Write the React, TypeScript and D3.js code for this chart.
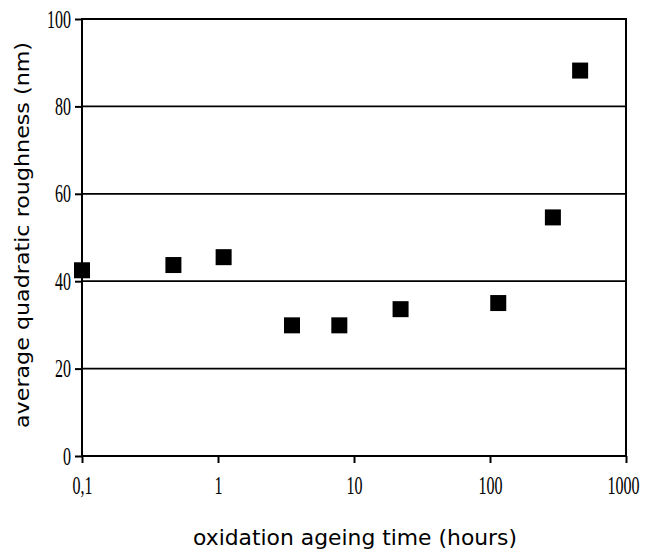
import React, { useEffect, useRef } from 'react';
import * as d3 from 'd3';

// ageing time (hours) and roughness (nm)
const hours = [0.1, 0.47, 1.1, 3.5, 7.8, 22, 115, 290, 460];
const roughness = [42.5, 43.7, 45.5, 29.9, 29.9, 33.6, 35.0, 54.6, 88.2];
const xTicks = [0.1, 1, 10, 100, 1000];
const xTickLabels = ['0,1', '1', '10', '100', '1000'];
const yTicks = [0, 20, 40, 60, 80, 100];

export default function App() {
  const ref = useRef<SVGSVGElement>(null);

  useEffect(() => {
    const svg = d3.select(ref.current);
    svg.selectAll('*').remove();

    const width = 645;
    const height = 554;
    const margin = { top: 19, left: 82, bottom: 98, right: 19 };
    const iwidth = width - margin.left - margin.right;
    const iheight = height - margin.top - margin.bottom;

    const x = d3.scaleLog().domain([0.1, 1000]).range([0, iwidth]);
    const y = d3.scaleLinear().domain([0, 100]).range([iheight, 0]);

    const g = svg.append('g').attr('transform', `translate(${margin.left},${margin.top})`);

    // gridlines
    g.selectAll('line.grid')
      .data(yTicks.filter(d => d > 0 && d < 100))
      .enter().append('line')
      .attr('class', 'grid')
      .attr('x1', 0).attr('x2', iwidth)
      .attr('y1', d => y(d)).attr('y2', d => y(d))
      .attr('stroke', '#000').attr('stroke-width', 1.8);

    // frame
    g.append('rect')
      .attr('x', 0).attr('y', 0)
      .attr('width', iwidth).attr('height', iheight)
      .attr('fill', 'none').attr('stroke', '#000').attr('stroke-width', 2);

    const tickFont = '"Liberation Serif", serif';
    // the tick digits are tall and narrow in the original
    const sx = 0.64;

    const xAxis = g.append('g')
      .attr('transform', `translate(0,${iheight})`)
      .call(d3.axisBottom(x).tickValues(xTicks).tickSize(7).tickSizeOuter(0)
        .tickFormat((d, i) => xTickLabels[i]));
    xAxis.select('.domain').remove();
    xAxis.selectAll('line').attr('stroke-width', 2);
    xAxis.selectAll<SVGTextElement, number>('text')
      .attr('font-family', tickFont).attr('font-size', 25).attr('fill', '#000')
      .attr('x', d => (d === 1000 ? -3 : 0) / sx)
      .attr('y', 20).attr('dy', '0.71em')
      .attr('transform', `scale(${sx},1)`);

    const yAxis = g.append('g')
      .call(d3.axisLeft(y).tickValues(yTicks).tickSize(7).tickSizeOuter(0));
    yAxis.select('.domain').remove();
    yAxis.selectAll('line').attr('stroke-width', 2);
    yAxis.selectAll<SVGTextElement, number>('text')
      .attr('font-family', tickFont).attr('font-size', 25).attr('fill', '#000')
      .attr('x', -11 / sx).attr('dy', '0.32em')
      .attr('transform', `scale(${sx},1)`);

    // markers
    const s = 16;
    g.selectAll('rect.pt')
      .data(hours.map((h, i) => ({ h, r: roughness[i] })))
      .enter().append('rect')
      .attr('class', 'pt')
      .attr('x', d => x(d.h) - s / 2)
      .attr('y', d => y(d.r) - s / 2)
      .attr('width', s).attr('height', s)
      .attr('fill', '#000');

    const titleFont = '"DejaVu Sans", sans-serif';
    svg.append('text')
      .attr('x', 355)
      .attr('y', 545)
      .attr('text-anchor', 'middle')
      .attr('font-family', titleFont).attr('font-size', 21)
      .attr('textLength', 324).attr('lengthAdjust', 'spacingAndGlyphs')
      .text('oxidation ageing time (hours)');

    svg.append('text')
      .attr('transform', `translate(29,${235}) rotate(-90)`)
      .attr('text-anchor', 'middle')
      .attr('font-family', titleFont).attr('font-size', 20)
      .attr('textLength', 386).attr('lengthAdjust', 'spacingAndGlyphs')
      .text('average quadratic roughness (nm)');
  }, []);

  return (
    <svg ref={ref} width={645} height={554}
      style={{ position: 'absolute', left: 0, top: 0, background: '#fff' }} />
  );
}
